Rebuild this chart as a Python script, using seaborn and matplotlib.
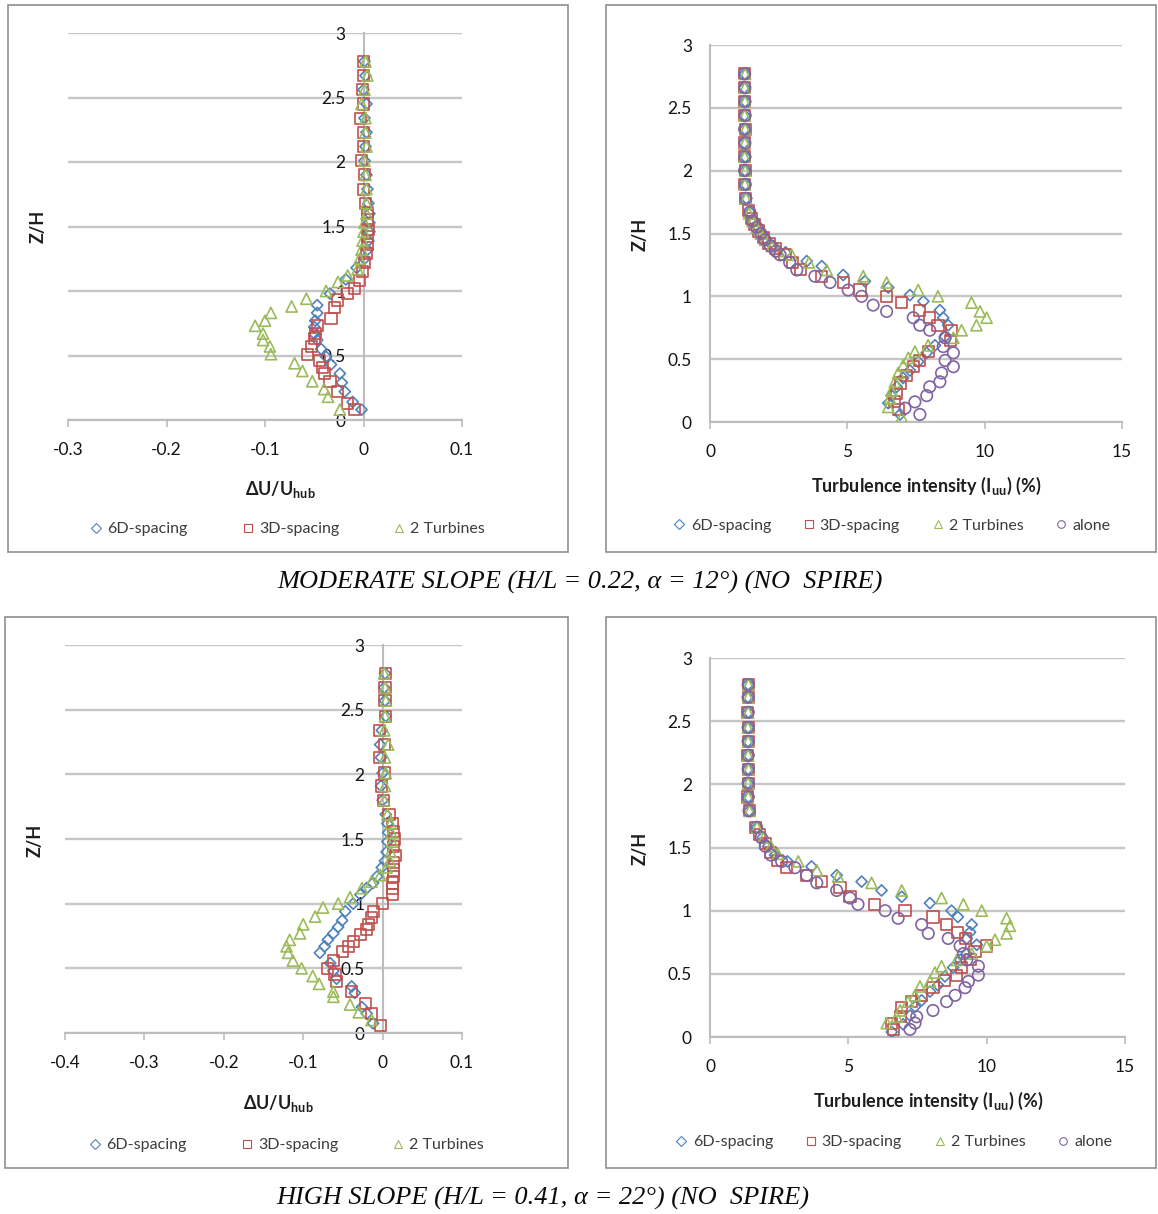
import matplotlib
matplotlib.use("Agg")
import matplotlib.pyplot as plt
import seaborn as sns
from matplotlib.lines import Line2D
from matplotlib.patches import Rectangle

sns.set_theme(style="white")
plt.rcParams["font.family"] = ["Lato", "DejaVu Sans"]
plt.rcParams["mathtext.fontset"] = "custom"
plt.rcParams["mathtext.rm"] = "Lato"
plt.rcParams["mathtext.bf"] = "Lato:bold"
plt.rcParams["mathtext.it"] = "Lato:italic"

# ---------------------------------------------------------------- data
SERIES = ["6D-spacing", "3D-spacing", "2 Turbines", "alone"]
COLORS = {"6D-spacing": "#4F81BD", "3D-spacing": "#C0504D",
          "2 Turbines": "#9BBB59", "alone": "#8064A2"}
MARKERS = {"6D-spacing": "D", "3D-spacing": "s", "2 Turbines": "^", "alone": "o"}
SIZES = {"6D-spacing": 32, "3D-spacing": 64, "2 Turbines": 64, "alone": 68}

Y_TICKS = [0, 0.5, 1, 1.5, 2, 2.5, 3]
Y_TICK_LABELS = ["0", "0.5", "1", "1.5", "2", "2.5", "3"]

# Moderate slope: velocity deficit dU/U_hub
mod_du_6d_z = [2.78, 2.67, 2.56, 2.45, 2.34, 2.23, 2.12, 2.01, 1.90, 1.79,
               1.68, 1.60, 1.53, 1.46, 1.39, 1.32, 1.25, 1.18, 1.09, 0.98,
               0.89, 0.83, 0.77, 0.72, 0.67, 0.62, 0.55, 0.49, 0.43, 0.36,
               0.29, 0.22, 0.14, 0.08]
mod_du_6d = [0.001, 0.002, 0.000, 0.003, 0.001, 0.003, 0.002, 0.001, 0.003, 0.004,
             0.005, 0.006, 0.006, 0.006, 0.005, 0.004, 0.001, -0.007, -0.018, -0.034,
             -0.047, -0.047, -0.049, -0.050, -0.050, -0.047, -0.043, -0.038, -0.033, -0.024,
             -0.022, -0.019, -0.011, -0.002]
mod_du_3d_z = [2.78, 2.67, 2.56, 2.45, 2.34, 2.23, 2.12, 2.01, 1.90, 1.79,
               1.68, 1.61, 1.55, 1.48, 1.42, 1.36, 1.29, 1.22, 1.15, 1.08,
               1.02, 0.98, 0.93, 0.87, 0.79, 0.73, 0.67, 0.63, 0.57, 0.51,
               0.46, 0.41, 0.36, 0.30, 0.22, 0.13, 0.08]
mod_du_3d = [0.000, 0.000, -0.001, 0.000, -0.003, 0.000, 0.000, -0.002, 0.001, 0.000,
             0.002, 0.004, 0.004, 0.005, 0.004, 0.004, 0.003, 0.001, -0.001, -0.004,
             -0.009, -0.016, -0.026, -0.029, -0.033, -0.047, -0.049, -0.050, -0.053, -0.057,
             -0.045, -0.042, -0.040, -0.034, -0.026, -0.016, -0.009]
mod_du_2t_z = [2.78, 2.67, 2.56, 2.45, 2.34, 2.23, 2.12, 2.01, 1.90, 1.79,
               1.68, 1.60, 1.53, 1.46, 1.39, 1.32, 1.25, 1.17, 1.12, 1.07,
               1.00, 0.94, 0.88, 0.83, 0.77, 0.73, 0.67, 0.62, 0.57, 0.51,
               0.44, 0.38, 0.30, 0.24, 0.18, 0.08]
mod_du_2t = [0.002, 0.004, 0.001, -0.002, 0.002, 0.002, 0.003, 0.001, 0.002, 0.003,
             0.003, 0.003, 0.001, 0.000, -0.001, -0.002, -0.004, -0.006, -0.016, -0.026,
             -0.038, -0.058, -0.073, -0.094, -0.100, -0.110, -0.102, -0.102, -0.095, -0.094,
             -0.070, -0.062, -0.052, -0.040, -0.036, -0.024]

# Moderate slope: turbulence intensity (%)
mod_ti_6d_z = [2.77, 2.66, 2.55, 2.44, 2.33, 2.22, 2.11, 2.00, 1.89, 1.78,
               1.67, 1.60, 1.55, 1.50, 1.45, 1.40, 1.35, 1.28, 1.24, 1.17,
               1.12, 1.07, 1.01, 0.96, 0.89, 0.83, 0.77, 0.68, 0.61, 0.55,
               0.48, 0.41, 0.35, 0.28, 0.21, 0.15, 0.06]
mod_ti_6d = [1.27, 1.25, 1.28, 1.26, 1.27, 1.25, 1.28, 1.27, 1.29, 1.32,
             1.45, 1.60, 1.75, 1.90, 2.05, 2.30, 2.75, 3.52, 4.07, 4.85,
             5.64, 6.49, 7.28, 7.77, 8.37, 8.49, 8.67, 8.56, 8.19, 7.89,
             7.58, 7.28, 7.03, 6.80, 6.61, 6.49, 6.92]
mod_ti_3d_z = [2.77, 2.66, 2.55, 2.44, 2.33, 2.22, 2.11, 2.00, 1.89, 1.78,
               1.68, 1.62, 1.57, 1.52, 1.47, 1.42, 1.38, 1.33, 1.27, 1.21,
               1.16, 1.11, 1.05, 1.00, 0.95, 0.89, 0.83, 0.77, 0.73, 0.65,
               0.56, 0.49, 0.44, 0.37, 0.31, 0.23, 0.16, 0.10]
mod_ti_3d = [1.27, 1.27, 1.26, 1.27, 1.28, 1.26, 1.27, 1.28, 1.27, 1.30,
             1.40, 1.50, 1.62, 1.78, 1.95, 2.15, 2.40, 2.73, 3.00, 3.28,
             4.07, 4.85, 5.46, 6.43, 6.98, 7.64, 8.00, 8.30, 8.80, 8.74,
             7.94, 7.64, 7.40, 7.16, 6.92, 6.80, 6.73, 6.85]
mod_ti_2t_z = [2.77, 2.66, 2.55, 2.44, 2.33, 2.22, 2.11, 2.00, 1.89, 1.78,
               1.66, 1.60, 1.55, 1.50, 1.45, 1.40, 1.36, 1.33, 1.27, 1.21,
               1.16, 1.11, 1.05, 1.00, 0.95, 0.88, 0.83, 0.77, 0.73, 0.67,
               0.61, 0.56, 0.51, 0.45, 0.39, 0.32, 0.25, 0.19, 0.12, 0.04]
mod_ti_2t = [1.28, 1.27, 1.27, 1.26, 1.28, 1.27, 1.26, 1.28, 1.27, 1.31,
             1.42, 1.55, 1.70, 1.85, 2.00, 2.25, 2.50, 2.97, 3.60, 4.25,
             5.58, 6.43, 7.58, 8.30, 9.52, 9.83, 10.07, 9.70, 9.16, 8.86,
             7.94, 7.46, 7.22, 7.03, 6.85, 6.73, 6.61, 6.55, 6.49, 6.98]
mod_ti_al_z = [2.77, 2.66, 2.55, 2.44, 2.33, 2.22, 2.11, 2.00, 1.89, 1.78,
               1.67, 1.60, 1.55, 1.50, 1.45, 1.40, 1.36, 1.33, 1.27, 1.21,
               1.16, 1.11, 1.05, 1.00, 0.93, 0.88, 0.83, 0.77, 0.73, 0.67,
               0.60, 0.55, 0.49, 0.44, 0.39, 0.32, 0.28, 0.21, 0.16, 0.11, 0.06]
mod_ti_al = [1.26, 1.27, 1.27, 1.28, 1.26, 1.27, 1.27, 1.26, 1.28, 1.30,
             1.45, 1.55, 1.70, 1.85, 2.00, 2.20, 2.40, 2.55, 2.90, 3.16,
             3.82, 4.37, 5.03, 5.52, 5.94, 6.43, 7.40, 7.64, 8.00, 8.56,
             8.49, 8.86, 8.56, 8.86, 8.43, 8.37, 8.00, 7.89, 7.46, 7.10, 7.64]

# High slope: velocity deficit dU/U_hub
high_du_6d_z = [2.78, 2.67, 2.57, 2.45, 2.34, 2.23, 2.13, 2.01, 1.91, 1.80,
                1.69, 1.62, 1.55, 1.48, 1.40, 1.33, 1.28, 1.21, 1.16, 1.12,
                1.07, 1.00, 0.94, 0.87, 0.82, 0.77, 0.72, 0.67, 0.62, 0.54,
                0.48, 0.42, 0.36, 0.31, 0.20, 0.15, 0.075]
high_du_6d = [0.003, 0.002, 0.003, 0.004, -0.001, -0.003, -0.002, 0.000, -0.002, 0.000,
              0.004, 0.006, 0.007, 0.006, 0.005, 0.003, -0.001, -0.007, -0.012, -0.020,
              -0.028, -0.037, -0.047, -0.051, -0.056, -0.062, -0.069, -0.073, -0.079, -0.066,
              -0.062, -0.058, -0.039, -0.035, -0.026, -0.020, -0.012]
high_du_3d_z = [2.78, 2.67, 2.57, 2.45, 2.34, 2.23, 2.13, 2.01, 1.91, 1.80,
                1.69, 1.62, 1.56, 1.50, 1.44, 1.37, 1.32, 1.26, 1.21, 1.16,
                1.12, 1.07, 1.00, 0.94, 0.89, 0.84, 0.80, 0.76, 0.71, 0.67,
                0.63, 0.56, 0.50, 0.45, 0.40, 0.32, 0.23, 0.15, 0.06]
high_du_3d = [0.004, 0.003, 0.003, 0.004, -0.004, 0.002, -0.004, 0.002, -0.001, 0.001,
              0.008, 0.012, 0.014, 0.015, 0.014, 0.016, 0.014, 0.014, 0.014, 0.013,
              0.013, 0.013, 0.000, -0.012, -0.014, -0.018, -0.020, -0.028, -0.037, -0.043,
              -0.051, -0.062, -0.069, -0.060, -0.058, -0.039, -0.022, -0.014, -0.003]
high_du_2t_z = [2.78, 2.67, 2.57, 2.45, 2.34, 2.23, 2.13, 2.01, 1.91, 1.80,
                1.69, 1.62, 1.55, 1.48, 1.40, 1.33, 1.28, 1.22, 1.17, 1.12,
                1.05, 1.00, 0.97, 0.90, 0.84, 0.77, 0.72, 0.67, 0.62, 0.56,
                0.50, 0.44, 0.38, 0.32, 0.28, 0.22, 0.16, 0.10]
high_du_2t = [0.002, 0.003, 0.004, 0.003, 0.002, 0.007, 0.003, 0.004, 0.003, 0.002,
              0.006, 0.010, 0.011, 0.012, 0.010, 0.009, 0.005, -0.003, -0.014, -0.026,
              -0.041, -0.056, -0.075, -0.085, -0.100, -0.104, -0.117, -0.121, -0.119, -0.113,
              -0.102, -0.088, -0.080, -0.062, -0.062, -0.041, -0.030, -0.014]

# High slope: turbulence intensity (%)
high_ti_6d_z = [2.79, 2.69, 2.57, 2.45, 2.34, 2.23, 2.12, 2.01, 1.90, 1.79,
                1.66, 1.58, 1.51, 1.44, 1.39, 1.35, 1.28, 1.23, 1.16, 1.11,
                1.06, 1.00, 0.95, 0.89, 0.83, 0.78, 0.73, 0.66, 0.61, 0.55,
                0.48, 0.41, 0.36, 0.29, 0.24, 0.17, 0.10, 0.04]
high_ti_6d = [1.38, 1.37, 1.39, 1.38, 1.37, 1.39, 1.38, 1.37, 1.39, 1.42,
              1.70, 1.90, 2.10, 2.35, 2.80, 3.67, 4.58, 5.48, 6.20, 6.93,
              7.95, 8.73, 8.96, 9.46, 9.40, 9.28, 9.64, 9.28, 9.04, 8.79,
              8.49, 8.24, 7.95, 7.65, 7.41, 7.23, 6.98, 6.57]
high_ti_3d_z = [2.79, 2.69, 2.57, 2.45, 2.34, 2.23, 2.12, 2.01, 1.90, 1.79,
                1.66, 1.60, 1.53, 1.46, 1.40, 1.34, 1.28, 1.23, 1.18, 1.11,
                1.05, 1.00, 0.95, 0.89, 0.83, 0.78, 0.72, 0.68, 0.61, 0.55,
                0.49, 0.45, 0.39, 0.33, 0.28, 0.23, 0.16, 0.11, 0.06]
high_ti_3d = [1.38, 1.38, 1.37, 1.38, 1.39, 1.37, 1.38, 1.38, 1.37, 1.42,
              1.65, 1.80, 2.00, 2.20, 2.45, 2.75, 3.49, 4.04, 4.70, 5.06,
              5.96, 7.05, 8.06, 8.55, 8.96, 9.22, 10.00, 9.58, 9.40, 9.10,
              8.92, 8.49, 8.06, 7.65, 7.29, 6.93, 6.87, 6.57, 6.63]
high_ti_2t_z = [2.79, 2.69, 2.57, 2.45, 2.34, 2.23, 2.12, 2.01, 1.90, 1.79,
                1.66, 1.58, 1.51, 1.45, 1.39, 1.32, 1.27, 1.22, 1.16, 1.10,
                1.05, 1.00, 0.94, 0.88, 0.82, 0.77, 0.72, 0.66, 0.61, 0.56,
                0.51, 0.44, 0.40, 0.33, 0.28, 0.21, 0.16, 0.11]
high_ti_2t = [1.39, 1.38, 1.38, 1.37, 1.38, 1.38, 1.39, 1.38, 1.38, 1.43,
              1.70, 1.95, 2.20, 2.45, 3.19, 3.86, 4.63, 5.84, 6.93, 8.37,
              9.16, 9.82, 10.72, 10.84, 10.72, 10.30, 10.00, 9.46, 8.92, 8.37,
              8.13, 7.95, 7.59, 7.41, 7.16, 6.87, 6.75, 6.39]
high_ti_al_z = [2.79, 2.69, 2.57, 2.45, 2.34, 2.23, 2.12, 2.01, 1.90, 1.79,
                1.66, 1.58, 1.51, 1.44, 1.39, 1.34, 1.28, 1.22, 1.16, 1.10,
                1.05, 1.00, 0.94, 0.89, 0.82, 0.78, 0.72, 0.66, 0.61, 0.56,
                0.49, 0.44, 0.39, 0.33, 0.28, 0.21, 0.16, 0.11, 0.06]
high_ti_al = [1.38, 1.38, 1.38, 1.38, 1.38, 1.38, 1.38, 1.38, 1.38, 1.41,
              1.68, 1.85, 2.00, 2.20, 2.59, 3.07, 3.49, 3.86, 4.58, 5.06,
              5.35, 6.33, 6.80, 7.65, 7.89, 8.61, 9.04, 9.16, 9.28, 9.70,
              9.70, 9.34, 9.22, 8.86, 8.55, 8.06, 7.47, 7.41, 7.23]

# ---------------------------------------------------------------- layout
W, H = 1158, 1214
fig = plt.figure(figsize=(W / 100, H / 100), dpi=100)
fig.patch.set_facecolor("white")


def px_axes(x0, y0, x1, y1):
    """Axes from pixel box (left, top, right, bottom)."""
    return fig.add_axes([x0 / W, 1 - y1 / H, (x1 - x0) / W, (y1 - y0) / H])


def frame(x0, y0, x1, y1):
    fig.add_artist(Rectangle((x0 / W, 1 - y1 / H), (x1 - x0) / W, (y1 - y0) / H,
                             transform=fig.transFigure, fill=False,
                             ec="#8f8f8f", lw=1.2))


def ftext(x, y, s, **kw):
    fig.text(x / W, 1 - y / H, s, **kw)


def style_axes(ax, xlim, xticks, xticklabels, spine_x):
    ax.set_xlim(*xlim)
    ax.set_ylim(0, 3)
    ax.set_xticks(xticks)
    ax.set_xticklabels(xticklabels)
    ax.set_yticks(Y_TICKS)
    ax.set_yticklabels(Y_TICK_LABELS)
    ax.set_xlabel("")
    ax.set_ylabel("")
    ax.set_facecolor("none")
    for s in ["top", "right"]:
        ax.spines[s].set_visible(False)
    ax.spines["left"].set_position(("data", spine_x))
    for s in ["left", "bottom"]:
        ax.spines[s].set_color("#bdbdbd")
        ax.spines[s].set_linewidth(1.5)
        ax.spines[s].set_zorder(1.5)
    ax.grid(axis="y", color="#c6c6c6", lw=1.7)
    ax.grid(axis="x", visible=False)
    ax.set_axisbelow(True)
    ax.tick_params(axis="y", length=0, pad=13, labelsize=12.5, labelcolor="#141414")
    ax.tick_params(axis="x", direction="out", length=5, width=1.2, color="#bdbdbd",
                   pad=11, labelsize=12.5, labelcolor="#141414", bottom=True)


def draw(ax, series, x, z):
    c = COLORS[series]
    sns.scatterplot(x=x, y=z, ax=ax, marker=MARKERS[series], s=SIZES[series],
                    color=c, facecolors="none", edgecolor=c, linewidth=1.2,
                    legend=False, zorder=3)


def legend(series_list, cx, cy, colsp):
    handles = [Line2D([], [], ls="none", marker=MARKERS[s], markersize=5.5,
                      mfc="none", mec=COLORS[s], mew=0.8) for s in series_list]
    fig.legend(handles, series_list, loc="center", bbox_to_anchor=(cx / W, 1 - cy / H),
               ncol=len(series_list), frameon=False, fontsize=11.5,
               handlelength=0.7, handletextpad=0.35, columnspacing=colsp,
               labelcolor="#3c3c3c", borderpad=0, borderaxespad=0)


du_label = r"$\mathbf{\Delta U/U_{hub}}$"
ti_label = r"$\mathbf{Turbulence\ intensity\ (I_{uu})\ (\%)}$"
lab_kw = dict(fontsize=13, fontweight="bold", color="#1e1e1e", ha="center", va="center")

# panel frames
frame(8, 5, 568, 552)
frame(606, 5, 1156, 552)
frame(5, 617, 568, 1168)
frame(606, 617, 1156, 1168)

# --- moderate slope, velocity deficit
ax1 = px_axes(68, 33, 462, 420)
draw(ax1, "6D-spacing", mod_du_6d, mod_du_6d_z)
draw(ax1, "3D-spacing", mod_du_3d, mod_du_3d_z)
draw(ax1, "2 Turbines", mod_du_2t, mod_du_2t_z)
style_axes(ax1, (-0.3, 0.1), [-0.3, -0.2, -0.1, 0, 0.1],
           ["-0.3", "-0.2", "-0.1", "0", "0.1"], 0)
ftext(280, 490, du_label, **lab_kw)
ftext(38, 226, "Z/H", rotation=90, **lab_kw)
legend(SERIES[:3], 288, 529, 3.4)

# --- moderate slope, turbulence intensity
ax2 = px_axes(710, 45, 1122, 422)
for s, x, z in [("6D-spacing", mod_ti_6d, mod_ti_6d_z), ("3D-spacing", mod_ti_3d, mod_ti_3d_z),
                ("2 Turbines", mod_ti_2t, mod_ti_2t_z), ("alone", mod_ti_al, mod_ti_al_z)]:
    draw(ax2, s, x, z)
style_axes(ax2, (0, 15), [0, 5, 10, 15], ["0", "5", "10", "15"], 0)
ftext(926, 486, ti_label, **lab_kw)
ftext(640, 234, "Z/H", rotation=90, **lab_kw)
legend(SERIES, 892, 526, 2.0)

# --- high slope, velocity deficit
ax3 = px_axes(65, 645, 462, 1033)
draw(ax3, "6D-spacing", high_du_6d, high_du_6d_z)
draw(ax3, "3D-spacing", high_du_3d, high_du_3d_z)
draw(ax3, "2 Turbines", high_du_2t, high_du_2t_z)
style_axes(ax3, (-0.4, 0.1), [-0.4, -0.3, -0.2, -0.1, 0, 0.1],
           ["-0.4", "-0.3", "-0.2", "-0.1", "0", "0.1"], 0)
ftext(278, 1104, du_label, **lab_kw)
ftext(35, 840, "Z/H", rotation=90, **lab_kw)
legend(SERIES[:3], 287, 1145, 3.4)

# --- high slope, turbulence intensity
ax4 = px_axes(710, 658, 1125, 1037)
for s, x, z in [("6D-spacing", high_ti_6d, high_ti_6d_z), ("3D-spacing", high_ti_3d, high_ti_3d_z),
                ("2 Turbines", high_ti_2t, high_ti_2t_z), ("alone", high_ti_al, high_ti_al_z)]:
    draw(ax4, s, x, z)
style_axes(ax4, (0, 15), [0, 5, 10, 15], ["0", "5", "10", "15"], 0)
ftext(928, 1101, ti_label, **lab_kw)
ftext(640, 848, "Z/H", rotation=90, **lab_kw)
legend(SERIES, 894, 1142, 2.0)

# captions
cap_kw = dict(family=["Liberation Serif", "DejaVu Serif"], style="italic",
              fontsize=19, color="#0a0a0a", ha="center", va="center")
ftext(580, 582, "MODERATE SLOPE (H/L = 0.22, α = 12°) (NO  SPIRE)", **cap_kw)
ftext(543, 1198, "HIGH SLOPE (H/L = 0.41, α = 22°) (NO  SPIRE)", **cap_kw)

fig.savefig("out.png", dpi=100, facecolor="white")
